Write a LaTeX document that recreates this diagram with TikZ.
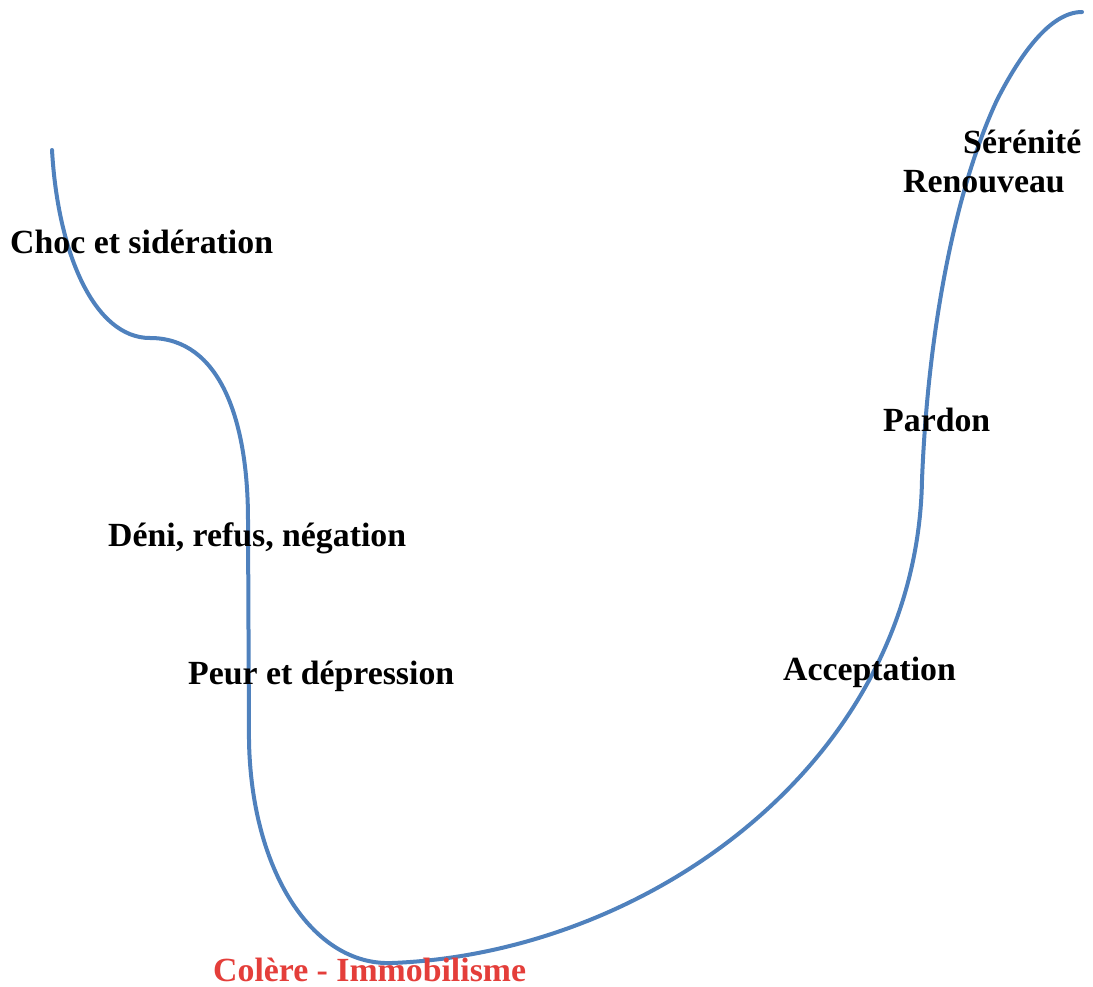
\documentclass[tikz,border=0pt]{standalone}
\usepackage{fontspec}
\setmainfont{Liberation Serif}
\definecolor{courbe}{RGB}{79,129,189}
\definecolor{colere}{RGB}{228,62,58}

\begin{document}
\begin{tikzpicture}[x=1pt,y=-1pt,
    etape/.style={anchor=west,inner sep=0pt,font=\fontsize{33.8}{38}\selectfont\bfseries}]
      \useasboundingbox (0,0) rectangle (1093,987);
      % la courbe du deuil
      \draw[courbe, line width=4pt, line cap=round]
        (52,150) .. controls (58,255) and (95,338) .. (150,338)
                 .. controls (220,338) and (248,420) .. (248,520)
                 -- (249,740)
                 .. controls (251,870) and (312,966) .. (392,963)
                 .. controls (650,953) and (917,760) .. (922,480)
                 .. controls (928,330) and (955,190) .. (997,100)
                 .. controls (1020,55) and (1050,12) .. (1082,12);
      \node[etape] (choc) at (10,242) {Choc et sidération};
      \node[etape] (deni) at (108,538) {Déni, refus, négation};
      \node[etape] (peur) at (188,676) {Peur et dépression};
      \node[etape, colere] (colere) at (213,970) {Colère - Immobilisme};
      \node[etape] (accept) at (783,672) {Acceptation};
      \node[etape] (pardon) at (883,420) {Pardon};
      \node[etape] (renouv) at (903,182) {Renouveau};
      \node[etape] (seren) at (963,142) {Sérénité};
    \end{tikzpicture}
\end{document}
